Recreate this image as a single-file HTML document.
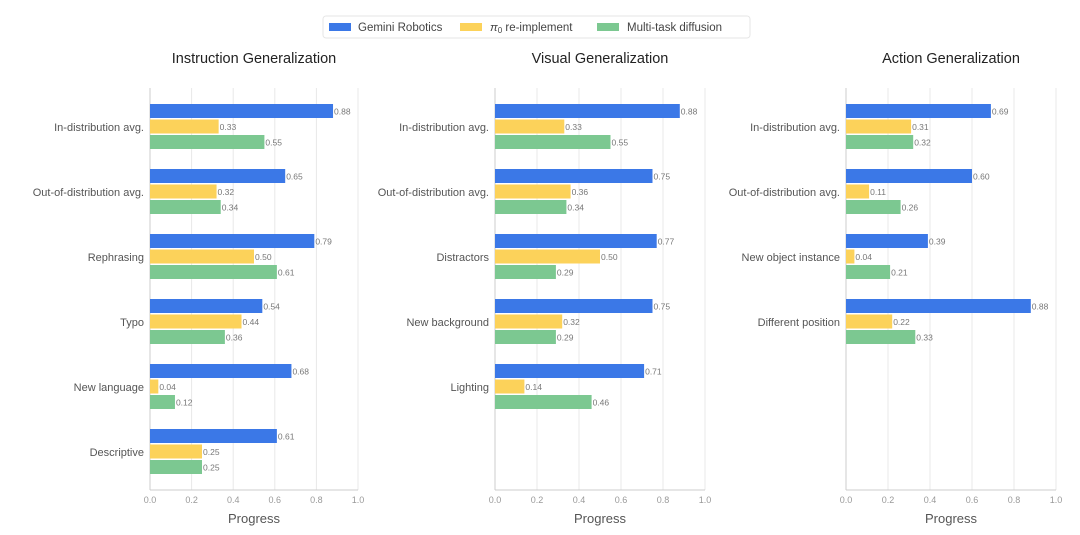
<!DOCTYPE html>
<html><head><meta charset="utf-8"><style>
body{margin:0;background:#fff;width:1080px;height:530px;overflow:hidden;font-family:"Liberation Sans",sans-serif}
</style></head><body>
<svg id="c" width="1080" height="530" xmlns="http://www.w3.org/2000/svg">
<g>
<rect x="323" y="16" width="427" height="22" rx="3" fill="#fff" stroke="#e6e6e6"/>
<rect x="329" y="23" width="22" height="8" fill="#3b78e7"/>
<text x="358" y="31" font-size="11.5" fill="#444">Gemini Robotics</text>
<rect x="460" y="23" width="22" height="8" fill="#fcd25a"/>
<text x="490" y="31" font-size="11.5" fill="#444"><tspan font-style="italic">π</tspan><tspan font-size="8" dy="2">0</tspan><tspan dy="-2"> re-implement</tspan></text>
<rect x="597" y="23" width="22" height="8" fill="#7cc891"/>
<text x="627" y="31" font-size="11.5" fill="#444">Multi-task diffusion</text>
</g>
</svg>
<script>
const titles=["Instruction Generalization","Visual Generalization","Action Generalization"];
const cats1=["In-distribution avg.","Out-of-distribution avg.","Rephrasing","Typo","New language","Descriptive"];
const gem1=[0.88,0.65,0.79,0.54,0.68,0.61];
const pi1=[0.33,0.32,0.50,0.44,0.04,0.25];
const dif1=[0.55,0.34,0.61,0.36,0.12,0.25];
const cats2=["In-distribution avg.","Out-of-distribution avg.","Distractors","New background","Lighting"];
const gem2=[0.88,0.75,0.77,0.75,0.71];
const pi2=[0.33,0.36,0.50,0.32,0.14];
const dif2=[0.55,0.34,0.29,0.29,0.46];
const cats3=["In-distribution avg.","Out-of-distribution avg.","New object instance","Different position"];
const gem3=[0.69,0.60,0.39,0.88];
const pi3=[0.31,0.11,0.04,0.22];
const dif3=[0.32,0.26,0.21,0.33];
const ticks=["0.0","0.2","0.4","0.6","0.8","1.0"];
const tickVals=[0,0.2,0.4,0.6,0.8,1.0];
const panels=[{x0:150,w:208,cats:cats1,s:[gem1,pi1,dif1]},{x0:495,w:210,cats:cats2,s:[gem2,pi2,dif2]},{x0:846,w:210,cats:cats3,s:[gem3,pi3,dif3]}];
const colors=["#3b78e7","#fcd25a","#7cc891"];
const svg=document.getElementById('c');
const NS="http://www.w3.org/2000/svg";
function mk(t,a,p){const e=document.createElementNS(NS,t);for(const k in a)e.setAttribute(k,a[k]);(p||svg).appendChild(e);return e;}
const plotTop=88,plotBottom=490,gap=65,first=104,bh=14;
panels.forEach((p,pi)=>{
 const g=mk('g',{});
 
 
 const xs=v=>p.x0+v*p.w;
 const yc=i=>first+i*gap;
 tickVals.forEach((v,i)=>{
  if(i>0){const l=mk('line',{x1:xs(v),x2:xs(v),y1:plotTop,y2:plotBottom,stroke:'#e8e8e8'},g);
  
  }
  const t=mk('text',{x:xs(v),y:503,'font-size':9,fill:'#999','text-anchor':'middle'},g);t.textContent=ticks[i];
  
  
 });
 const ax=mk('line',{x1:p.x0,x2:p.x0,y1:plotTop,y2:plotBottom,stroke:'#ccc'},g);
 
 
 const bx=mk('line',{x1:p.x0,x2:xs(1),y1:plotBottom,y2:plotBottom,stroke:'#ccc'},g);
 
 
 const ti=mk('text',{x:p.x0+p.w/2,y:63,'font-size':14.5,fill:'#222','text-anchor':'middle'},g);ti.textContent=titles[pi];
 
 
 const xt=mk('text',{x:p.x0+p.w/2,y:523,'font-size':13,fill:'#555','text-anchor':'middle'},g);xt.textContent='Progress';
 
 
 p.cats.forEach((c,i)=>{
  const lb=mk('text',{x:p.x0-6,y:yc(i)+27,'font-size':11,fill:'#555','text-anchor':'end'},g);lb.textContent=c;
  
  
  p.s.forEach((ser,si)=>{
   const y=yc(i)+si*15.5;
   const r=mk('rect',{x:p.x0,y:y,width:xs(ser[i])-p.x0,height:bh,fill:colors[si]},g);
   
   
   const vt=mk('text',{x:xs(ser[i])+1,y:y+10.5,'font-size':8.5,fill:'#777'},g);vt.textContent=ser[i].toFixed(2);
   
   
  });
 });
});
</script>
</body></html>
